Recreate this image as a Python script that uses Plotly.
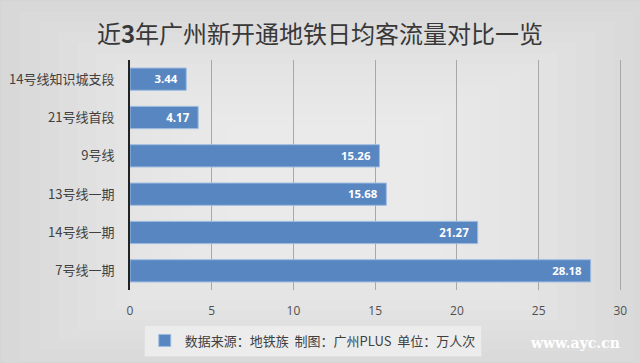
import plotly.graph_objects as go

categories = ["14号线知识城支段", "21号线首段", "9号线", "13号线一期", "14号线一期", "7号线一期"]
values = [3.44, 4.17, 15.26, 15.68, 21.27, 28.18]
x_ticks = [0, 5, 10, 15, 20, 25, 30]
legend_name = "数据来源：地铁族\u00a0\u00a0制图：广州PLUS\u00a0\u00a0单位：万人次"
title_text = "近<b>3</b>年广州新开通地铁日均客流量对比一览"

FONT = "Noto Sans CJK SC"
fig = go.Figure()
fig.add_trace(go.Bar(
    y=categories, x=values, orientation="h",
    marker=dict(color="#5886c1", line=dict(color="#9dbbe0", width=1)),
    width=0.58,
    text=[f"{v:.2f}" for v in values], textposition="inside",
    insidetextanchor="end",
    textfont=dict(color="white", size=12, family="Open Sans"),
    texttemplate="<b>%{text}  </b>",
    name=legend_name, showlegend=True,
))

shapes = []
n = 14
for i in range(n):
    fx = 0.5 * i / n * 0.9
    fy = 0.5 * i / n * 0.9
    shapes.append(dict(type="rect", xref="paper", yref="paper", layer="below",
                       x0=-0.3 + fx * 1.2, x1=1.1 - fx * 1.2, y0=-0.4 + fy * 1.4, y1=1.3 - fy * 1.4,
                       fillcolor="white", opacity=0.07, line=dict(width=0)))

fig.update_layout(
    width=640, height=363,
    margin=dict(l=130, r=18, t=60, b=73, autoexpand=False),
    paper_bgcolor="#d2d2d2", plot_bgcolor="rgba(0,0,0,0)",
    font=dict(family=FONT, color="#404040", size=13),
    title=dict(text=title_text, x=0.5, xanchor="center", y=0.905, yanchor="middle",
               font=dict(size=24, family=FONT, color="#383838")),
    xaxis=dict(range=[0, 30.1], tickvals=x_ticks, showgrid=True, gridcolor="#a8a8a8",
               gridwidth=1, zeroline=False, showline=False, automargin=False,
               ticklabelstandoff=12,
               tickfont=dict(size=12, color="#505050", family="Open Sans"), ticks=""),
    yaxis=dict(autorange="reversed", showline=True, linecolor="#222222", linewidth=2,
               automargin=False,
               ticks="", ticklabelstandoff=11, tickfont=dict(size=13, color="#404040")),
    legend=dict(orientation="h", x=0.028, xanchor="left", y=-0.15, yanchor="top",
                bgcolor="#ececec", bordercolor="#e0e0e0", borderwidth=1, itemwidth=30,
                font=dict(size=13, color="#404040")),
    shapes=shapes,
    annotations=[dict(text="<b>www.ayc.cn</b>", x=1.0, y=-0.23, xref="paper", yref="paper",
                      xanchor="right", yanchor="middle", showarrow=False,
                      font=dict(family="DejaVu Serif", size=14, color="white"))],
)
fig.write_html("out.html", config={"displayModeBar": False},
               post_script="document.body.style.margin='0';document.body.style.overflow='hidden';")
